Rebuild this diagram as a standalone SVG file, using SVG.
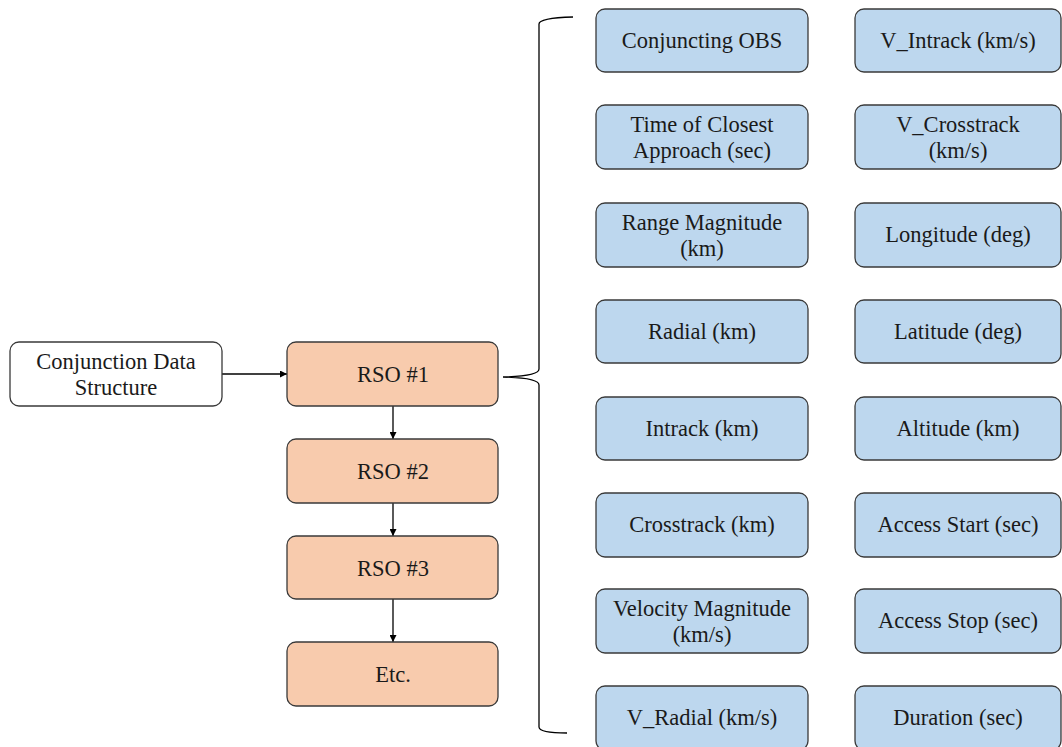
<svg xmlns="http://www.w3.org/2000/svg" width="1062" height="747" viewBox="0 0 1062 747">
<defs>
<style>
.n{stroke:#3a3a3a;stroke-width:1.3}
.w{fill:#ffffff}
.o{fill:#F8CBAD}
.b{fill:#BDD7EE}
.c{stroke:#000;stroke-width:1.3;fill:none}
</style>
<marker id="ah" viewBox="0 0 10 10" refX="10" refY="5" markerWidth="7" markerHeight="7" markerUnits="userSpaceOnUse" orient="auto">
<path d="M0,0 L10,5 L0,10 z" fill="#000"/>
</marker>
</defs>
<rect width="1062" height="747" fill="#ffffff"/>

<g id="connectors">
<line class="c" x1="222" y1="374" x2="287" y2="374" marker-end="url(#ah)"/>
<line class="c" x1="393" y1="406" x2="393" y2="439" marker-end="url(#ah)"/>
<line class="c" x1="393" y1="503" x2="393" y2="536" marker-end="url(#ah)"/>
<line class="c" x1="393" y1="599" x2="393" y2="642" marker-end="url(#ah)"/>
<path class="c" d="M573,17 Q539,18 539,24 L539,369 Q539,376 503,377 Q539,378 539,385 L539,727 Q539,733 567,733"/>
</g>

<g font-family="Liberation Serif" font-size="22.5" text-anchor="middle" fill="#1a1a1a">
<g id="cds"><rect class="n w" x="10" y="342" width="212" height="64" rx="9"/><text x="116" y="369">Conjunction Data</text><text x="116" y="395">Structure</text></g>
<g id="rso1"><rect class="n o" x="287" y="342" width="211" height="64" rx="9"/><text x="393" y="382">RSO #1</text></g>
<g id="rso2"><rect class="n o" x="287" y="439" width="211" height="64" rx="9"/><text x="393" y="479">RSO #2</text></g>
<g id="rso3"><rect class="n o" x="287" y="536" width="211" height="63" rx="9"/><text x="393" y="576">RSO #3</text></g>
<g id="etc"><rect class="n o" x="287" y="642" width="211" height="64" rx="9"/><text x="393" y="682">Etc.</text></g>

<g id="f1"><rect class="n b" x="596" y="9" width="212" height="63" rx="9"/><text x="702" y="48">Conjuncting OBS</text></g>
<g id="f2"><rect class="n b" x="596" y="105" width="212" height="64" rx="9"/><text x="702" y="132">Time of Closest</text><text x="702" y="158">Approach (sec)</text></g>
<g id="f3"><rect class="n b" x="596" y="203" width="212" height="64" rx="9"/><text x="702" y="230">Range Magnitude</text><text x="702" y="256">(km)</text></g>
<g id="f4"><rect class="n b" x="596" y="300" width="212" height="63" rx="9"/><text x="702" y="339">Radial (km)</text></g>
<g id="f5"><rect class="n b" x="596" y="397" width="212" height="63" rx="9"/><text x="702" y="436">Intrack (km)</text></g>
<g id="f6"><rect class="n b" x="596" y="493" width="212" height="64" rx="9"/><text x="702" y="532">Crosstrack (km)</text></g>
<g id="f7"><rect class="n b" x="596" y="589" width="212" height="64" rx="9"/><text x="702" y="616">Velocity Magnitude</text><text x="702" y="642">(km/s)</text></g>
<g id="f8"><rect class="n b" x="596" y="686" width="212" height="64" rx="9"/><text x="702" y="725">V_Radial (km/s)</text></g>

<g id="g1"><rect class="n b" x="855" y="9" width="206" height="63" rx="9"/><text x="958" y="48">V_Intrack (km/s)</text></g>
<g id="g2"><rect class="n b" x="855" y="105" width="206" height="64" rx="9"/><text x="958" y="132">V_Crosstrack</text><text x="958" y="158">(km/s)</text></g>
<g id="g3"><rect class="n b" x="855" y="203" width="206" height="64" rx="9"/><text x="958" y="242">Longitude (deg)</text></g>
<g id="g4"><rect class="n b" x="855" y="300" width="206" height="63" rx="9"/><text x="958" y="339">Latitude (deg)</text></g>
<g id="g5"><rect class="n b" x="855" y="397" width="206" height="63" rx="9"/><text x="958" y="436">Altitude (km)</text></g>
<g id="g6"><rect class="n b" x="855" y="493" width="206" height="64" rx="9"/><text x="958" y="532">Access Start (sec)</text></g>
<g id="g7"><rect class="n b" x="855" y="589" width="206" height="64" rx="9"/><text x="958" y="628">Access Stop (sec)</text></g>
<g id="g8"><rect class="n b" x="855" y="686" width="206" height="64" rx="9"/><text x="958" y="725">Duration (sec)</text></g>
</g>
</svg>
